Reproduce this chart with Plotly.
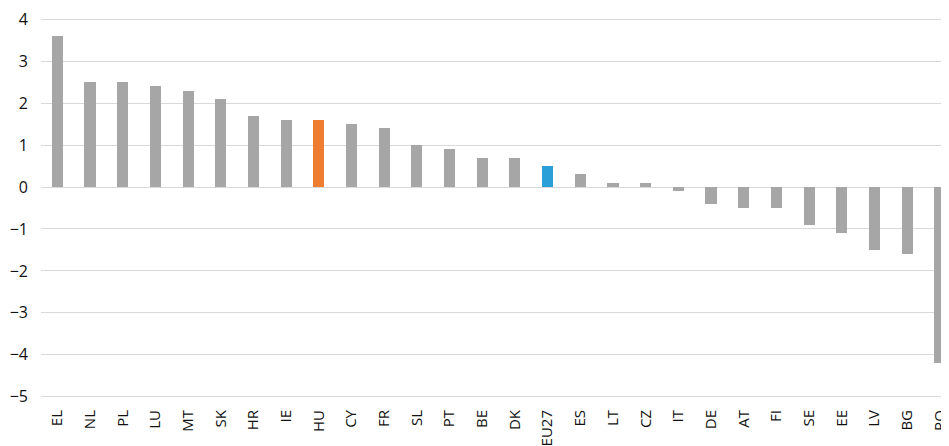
import plotly.graph_objects as go

categories = ["EL", "NL", "PL", "LU", "MT", "SK", "HR", "IE", "HU", "CY", "FR", "SL", "PT", "BE",
              "DK", "EU27", "ES", "LT", "CZ", "IT", "DE", "AT", "FI", "SE", "EE", "LV", "BG", "RO"]
values = [3.6, 2.5, 2.5, 2.4, 2.3, 2.1, 1.7, 1.6, 1.6, 1.5, 1.4, 1.0, 0.9, 0.7,
          0.7, 0.5, 0.3, 0.1, 0.1, -0.1, -0.4, -0.5, -0.5, -0.9, -1.1, -1.5, -1.6, -4.2]
highlight = {"HU": "#ee7d31", "EU27": "#2a9fd8"}
base_color = "#a6a6a6"
y_ticks = [4, 3, 2, 1, 0, -1, -2, -3, -4, -5]

colors = [highlight.get(c, base_color) for c in categories]
tick_text = [str(v).replace("-", "\u2212") for v in y_ticks]

fig = go.Figure(go.Bar(
    x=categories, y=values, marker=dict(color=colors, line=dict(width=0)),
    width=0.34,
))
# the page body has an 8px default margin, so the figure is drawn offset by (8, 8)
fig.update_layout(
    width=941, height=438,
    margin=dict(l=33, r=0, t=10, b=48),
    plot_bgcolor="white", paper_bgcolor="white",
    font=dict(family="Open Sans", size=14, color="#111111"),
    showlegend=False,
    bargap=0,
)
fig.update_xaxes(range=[-0.5, 27.28], tickangle=-90, showgrid=False,
                 showline=False, ticks="", tickfont=dict(size=15), automargin=False,
                 ticklabeloverflow="allow", ticklabelstandoff=8)
fig.update_yaxes(range=[-5.03, 4.03], tickvals=y_ticks, ticktext=tick_text,
                 showgrid=True, gridcolor="#d9d9d9", gridwidth=1,
                 zeroline=True, zerolinecolor="#d9d9d9", zerolinewidth=1,
                 ticks="", ticklabelstandoff=12, tickfont=dict(size=16), automargin=False,
                 ticklabeloverflow="allow")
fig.write_html("out.html")
